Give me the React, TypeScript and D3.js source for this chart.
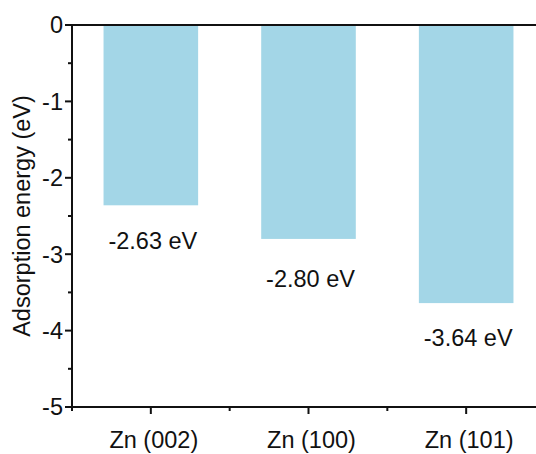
import React from "react";
import * as d3 from "d3";

const categories = ["Zn (002)", "Zn (100)", "Zn (101)"];
const values = [-2.36, -2.8, -3.64];
const valueLabels = ["-2.63 eV", "-2.80 eV", "-3.64 eV"];
const labelPositions = [-2.93, -3.43, -4.2];
const yTicks = [0, -1, -2, -3, -4, -5];
const yMinorTicks = [-0.5, -1.5, -2.5, -3.5, -4.5];

const W = 536;
const H = 454;
const left = 72;
const top = 25;
const bottom = 407;
const right = 545;
const font = "'Liberation Sans', Arial, sans-serif";
const fs = 23.5;

export default function App() {
  const x = d3.scaleBand<string>().domain(categories).range([left, right]).paddingInner(0.4).paddingOuter(0.2);
  const xOuter = d3.scaleBand<string>().domain(categories).range([left, right]);
  const y = d3.scaleLinear().domain([0, -5]).range([top, bottom]);
  const step = xOuter.step();
  const minorX = d3.range(categories.length + 1).map((i) => left + i * step);

  return (
    <svg width={W} height={H} style={{ position: "absolute", left: 0, top: 0, background: "#fff" }}>
      {values.map((v, i) => (
        <rect
          key={i}
          x={x(categories[i])!}
          y={y(0)}
          width={x.bandwidth()}
          height={y(v) - y(0)}
          fill="#a3d6e7"
        />
      ))}
      {valueLabels.map((t, i) => (
        <text
          key={i}
          x={(xOuter(categories[i])! + step / 2) + 2}
          y={y(labelPositions[i])}
          textAnchor="middle"
          fontFamily={font}
          fontSize={fs}
          fill="#111"
        >
          {t}
        </text>
      ))}
      {/* frame lines */}
      <line x1={left} x2={W} y1={y(0)} y2={y(0)} stroke="#111" strokeWidth={2} />
      <line x1={left} x2={W} y1={y(-5)} y2={y(-5)} stroke="#111" strokeWidth={2} />
      <line x1={left} x2={left} y1={y(0) - 1} y2={y(-5) + 1} stroke="#111" strokeWidth={2} />
      {/* y ticks */}
      {yTicks.map((t) => (
        <g key={t}>
          <line x1={left - 7} x2={left} y1={y(t)} y2={y(t)} stroke="#111" strokeWidth={2} />
          <text
            x={left - 9}
            y={y(t)}
            dy="0.36em"
            textAnchor="end"
            fontFamily={font}
            fontSize={fs}
            fill="#111"
          >
            {t}
          </text>
        </g>
      ))}
      {yMinorTicks.map((t) => (
        <line key={t} x1={left - 4} x2={left} y1={y(t)} y2={y(t)} stroke="#111" strokeWidth={2} />
      ))}
      {/* x ticks */}
      {categories.map((c) => {
        const cx = xOuter(c)! + step / 2;
        return (
          <g key={c}>
            <line x1={cx} x2={cx} y1={bottom} y2={bottom + 7} stroke="#111" strokeWidth={2} />
            <text x={cx + 3} y={448} textAnchor="middle" fontFamily={font} fontSize={fs} fill="#111">
              {c}
            </text>
          </g>
        );
      })}
      {minorX.map((mx, i) => (
        <line key={i} x1={mx} x2={mx} y1={bottom} y2={bottom + 4} stroke="#111" strokeWidth={2} />
      ))}
      <text
        transform={`translate(30, ${(top + bottom) / 2}) rotate(-90)`}
        textAnchor="middle"
        fontFamily={font}
        fontSize={fs}
        fill="#111"
      >
        Adsorption energy (eV)
      </text>
    </svg>
  );
}
